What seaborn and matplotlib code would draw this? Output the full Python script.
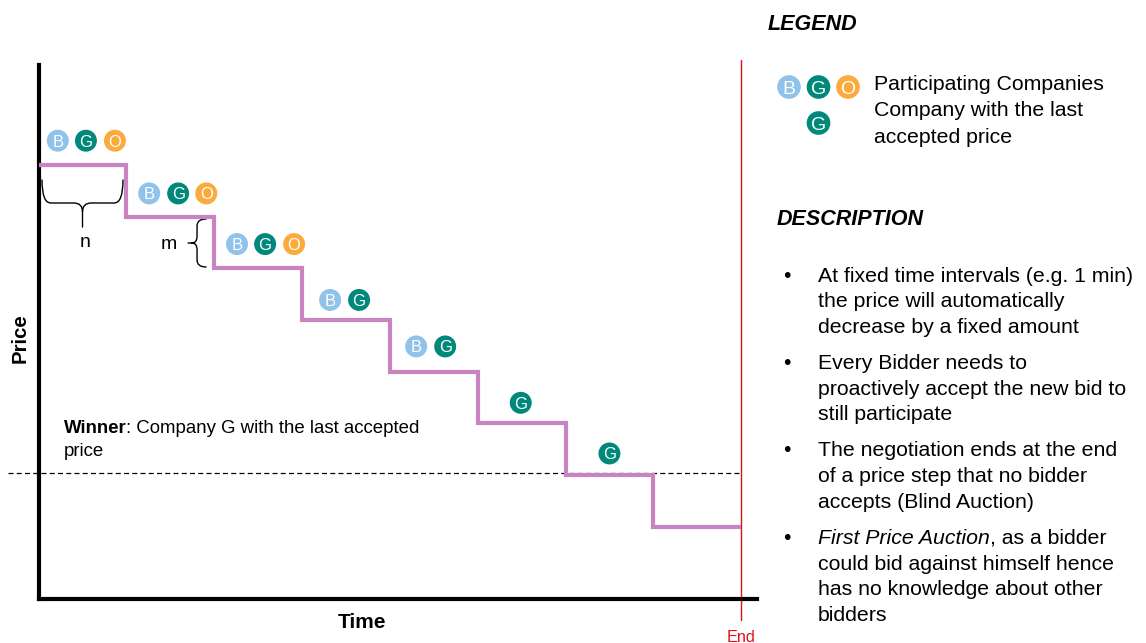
import matplotlib
matplotlib.use("Agg")
import matplotlib.pyplot as plt
from matplotlib.path import Path
from matplotlib.patches import PathPatch
import numpy as np
import pandas as pd
import seaborn as sns

# ---- data -------------------------------------------------------------
time_steps = [0, 1, 2, 3, 4, 5, 6, 7, 8]
price_levels = [8, 7, 6, 5, 4, 3, 2, 1, 1]

bid_time = [0.22, 0.54, 0.87, 1.26, 1.59, 1.91, 2.26, 2.58, 2.91,
            3.32, 3.65, 4.30, 4.63, 5.49, 6.50]
bid_price = [8.47, 8.47, 8.47, 7.45, 7.45, 7.45, 6.47, 6.47, 6.47,
             5.39, 5.39, 4.49, 4.49, 3.40, 2.42]
bid_company = ["B", "G", "O", "B", "G", "O", "B", "G", "O",
               "B", "G", "B", "G", "G", "G"]

winner_price = 2.05
end_time = 8

company_colors = {"B": "#90c2ea", "G": "#00897b", "O": "#fbaa3c"}
step_color = "#c983c1"

legend_lines = ["Participating Companies", "Company with the last", "accepted price"]
description = [
    ["At fixed time intervals (e.g. 1 min)", "the price will automatically",
     "decrease by a fixed amount"],
    ["Every Bidder needs to", "proactively accept the new bid to",
     "still participate"],
    ["The negotiation ends at the end", "of a price step that no bidder",
     "accepts (Blind Auction)"],
    [None, "could bid against himself hence", "has no knowledge about other",
     "bidders"],
]

# ---- style ------------------------------------------------------------
sns.set_theme(style="white")
plt.rcParams["font.family"] = ["Liberation Sans", "DejaVu Sans"]
plt.rcParams["text.color"] = "black"

W, H = 1146, 643
fig = plt.figure(figsize=(W / 100, H / 100), dpi=100)
fig.patch.set_facecolor("white")

# full-figure layer for the side panel and axis titles (pixel units)
pane = fig.add_axes([0, 0, 1, 1])
pane.set_xlim(0, W)
pane.set_ylim(H, 0)
pane.axis("off")

# main chart axes
left_px, right_px, top_px, bottom_px = 38.5, 757, 65, 598.7
ax = fig.add_axes([left_px / W, (H - bottom_px) / H,
                   (right_px - left_px) / W, (bottom_px - top_px) / H])
ax.patch.set_visible(False)
ax.set_xlim(0, 8.18)
ax.set_ylim(-0.389, 9.934)
for side in ("top", "right"):
    ax.spines[side].set_visible(False)
for side in ("left", "bottom"):
    ax.spines[side].set_color("black")
    ax.spines[side].set_linewidth(3)
ax.set_xticks([])
ax.set_yticks([])

# descending price steps
steps = pd.DataFrame({"time": time_steps, "price": price_levels})
sns.lineplot(data=steps, x="time", y="price", drawstyle="steps-post",
             color=step_color, lw=3, estimator=None, ax=ax,
             solid_joinstyle="miter", solid_capstyle="butt", zorder=3)

# bidders that accepted each price
bids = pd.DataFrame({"time": bid_time, "price": bid_price, "company": bid_company})
sns.scatterplot(data=bids, x="time", y="price", hue="company",
                palette=company_colors, s=250, edgecolor="none",
                legend=False, ax=ax, zorder=4)
for t, p, c in zip(bid_time, bid_price, bid_company):
    ax.text(t, p, c, color="white", fontsize=12, ha="center", va="center_baseline",
            zorder=5)
ax.set_xlabel("")
ax.set_ylabel("")

# winner threshold and end marker
ax.plot([-0.347, end_time], [winner_price, winner_price], color="black",
        lw=0.9, linestyle=(0, (4, 2.6)), clip_on=False, zorder=2)
ax.plot([end_time, end_time], [10.03, -0.80], color="#e3101a", lw=1.0,
        clip_on=False, zorder=2)
ax.text(end_time, -1.22, "End", color="#e3101a", fontsize=11.7, ha="center",
        va="baseline", clip_on=False)

w1 = ax.text(0.285, 2.807, "Winner", fontsize=13.4, fontweight="bold",
             va="baseline", ha="left")
ax.annotate(": Company G with the last accepted", xy=(1, 0), xycoords=w1,
            fontsize=13.4, va="bottom", ha="left")
ax.text(0.285, 2.362, "price", fontsize=13.4, va="baseline", ha="left")


# braces marking step length (n) and step height (m)
def brace_h(ax, x0, x1, y_end, y_bar, y_tip, rx, ry):
    xc = (x0 + x1) / 2
    verts = [(x0, y_end), (x0, y_bar), (x0 + rx, y_bar), (xc - rx, y_bar),
             (xc, y_bar), (xc, y_bar - ry), (xc, y_tip),
             (x1, y_end), (x1, y_bar), (x1 - rx, y_bar), (xc + rx, y_bar),
             (xc, y_bar), (xc, y_bar - ry)]
    codes = [Path.MOVETO, Path.CURVE3, Path.CURVE3, Path.LINETO, Path.CURVE3,
             Path.CURVE3, Path.LINETO, Path.MOVETO, Path.CURVE3, Path.CURVE3,
             Path.LINETO, Path.CURVE3, Path.CURVE3]
    ax.add_patch(PathPatch(Path(verts, codes), fill=False, lw=1.0,
                           edgecolor="black", capstyle="round"))


def brace_v(ax, y0, y1, x_end, x_bar, x_tip, rx, ry):
    yc = (y0 + y1) / 2
    verts = [(x_end, y0), (x_bar, y0), (x_bar, y0 - ry), (x_bar, yc + ry),
             (x_bar, yc), (x_bar - rx, yc), (x_tip, yc),
             (x_end, y1), (x_bar, y1), (x_bar, y1 + ry), (x_bar, yc - ry),
             (x_bar, yc), (x_bar - rx, yc)]
    codes = [Path.MOVETO, Path.CURVE3, Path.CURVE3, Path.LINETO, Path.CURVE3,
             Path.CURVE3, Path.LINETO, Path.MOVETO, Path.CURVE3, Path.CURVE3,
             Path.LINETO, Path.CURVE3, Path.CURVE3]
    ax.add_patch(PathPatch(Path(verts, codes), fill=False, lw=1.0,
                           edgecolor="black", capstyle="round"))


brace_h(ax, 0.04, 0.962, 7.71, 7.265, 6.80, 0.10, 0.17)
brace_v(ax, 6.955, 6.027, 1.908, 1.805, 1.703, 0.057, 0.135)
ax.text(0.53, 6.42, "n", fontsize=14, ha="center", va="baseline")
ax.text(1.478, 6.37, "m", fontsize=14, ha="center", va="baseline")

# axis titles
pane.text(362.5, 628.3, "Time", fontsize=15, fontweight="bold",
          ha="center", va="baseline")
pane.text(20, 338, "Price", fontsize=14.7, fontweight="bold", rotation=90,
          ha="center", va="center")

# ---- legend panel -----------------------------------------------------
body = 15.3
pane.text(768, 30, "LEGEND", fontsize=15.5, fontweight="bold",
          fontstyle="italic", va="baseline", ha="left")
legend_marks = pd.DataFrame({"x": [789, 818.5, 848, 818.5],
                             "y": [87, 87, 87, 123],
                             "company": ["B", "G", "O", "G"]})
sns.scatterplot(data=legend_marks, x="x", y="y", hue="company",
                palette=company_colors, s=290, edgecolor="none",
                legend=False, ax=pane)
pane.set_xlim(0, W)
pane.set_ylim(H, 0)
pane.axis("off")
for x, y, c in zip(legend_marks["x"], legend_marks["y"], legend_marks["company"]):
    pane.text(x, y, c, color="white", fontsize=14, ha="center",
              va="center_baseline")
for i, line in enumerate(legend_lines):
    pane.text(874, 90 + i * 26.5, line, fontsize=body, va="baseline", ha="left")

# ---- description panel ------------------------------------------------
pane.text(777, 225, "DESCRIPTION", fontsize=15.5, fontweight="bold",
          fontstyle="italic", va="baseline", ha="left")
para_top = [281.5, 369, 456.5, 544]
line_gap = 25.7
for top, lines in zip(para_top, description):
    pane.text(786.5, top, "\u2022", fontsize=body, ha="center", va="baseline")
    for j, line in enumerate(lines):
        if line is None:
            continue
        pane.text(818, top + j * line_gap, line, fontsize=body,
                  va="baseline", ha="left")

fp = pane.text(818, para_top[3], "First Price Auction", fontsize=body,
               fontstyle="italic", va="baseline", ha="left")
pane.annotate(", as a bidder", xy=(1, 0), xycoords=fp, fontsize=body,
              va="bottom", ha="left")

fig.savefig("out.png", dpi=100, facecolor="white")
